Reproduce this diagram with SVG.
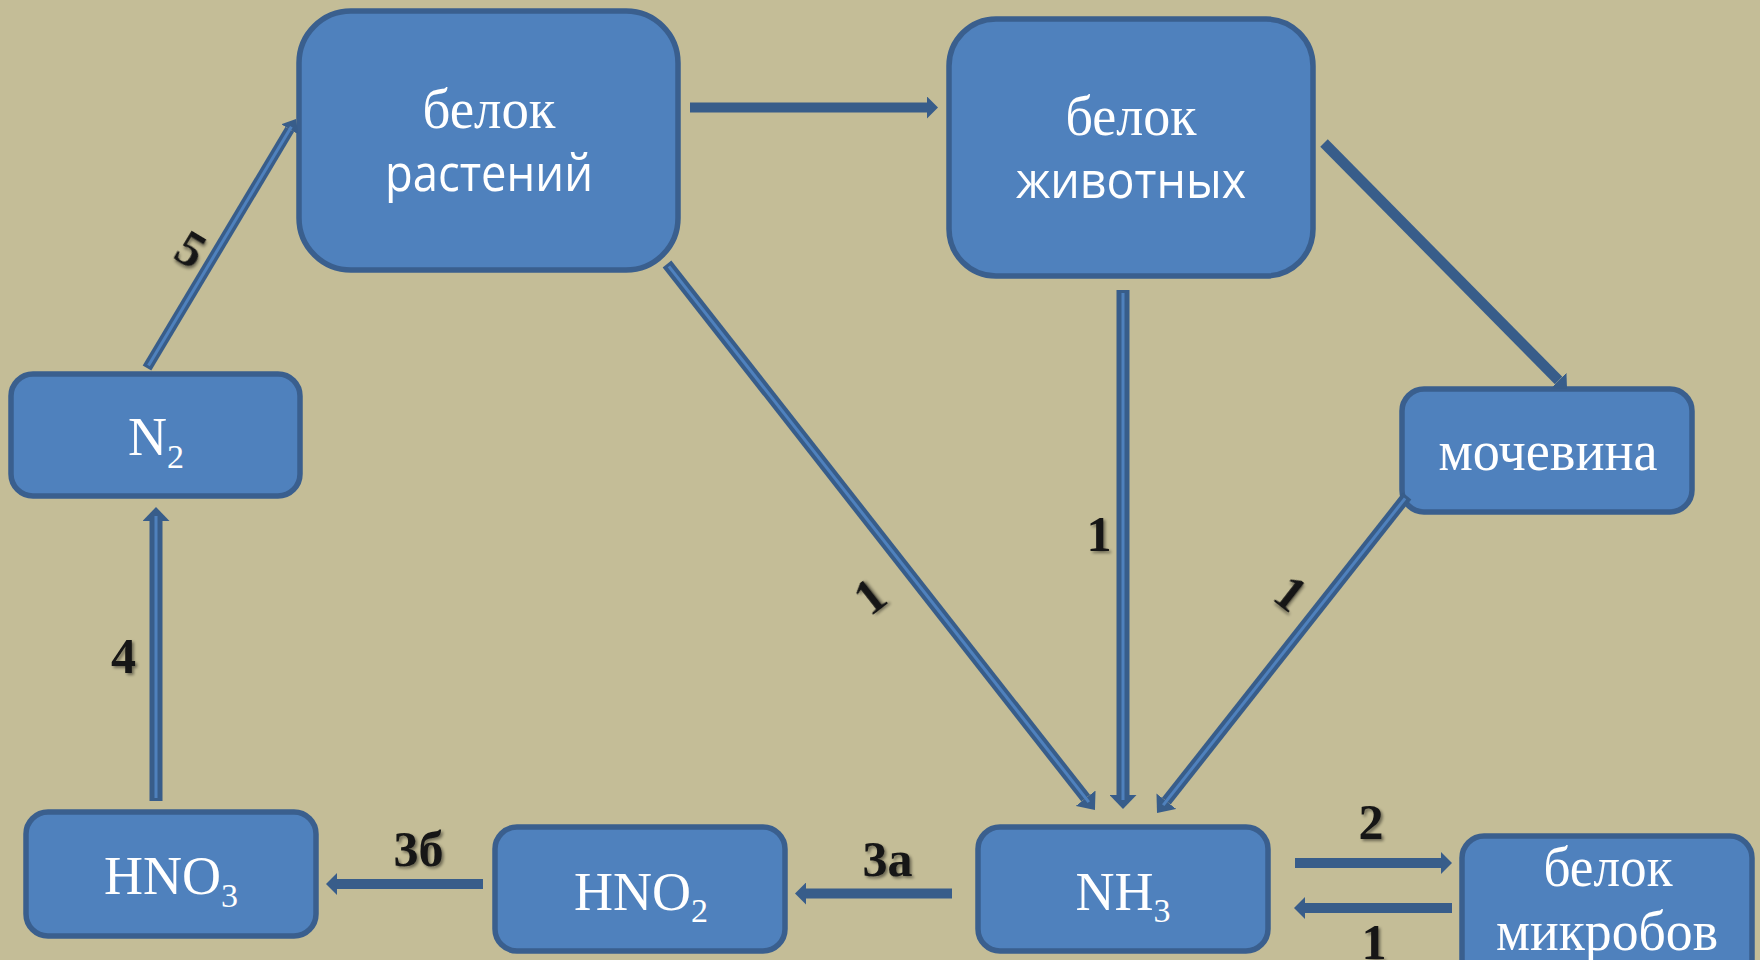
<svg xmlns="http://www.w3.org/2000/svg" width="1760" height="960" viewBox="0 0 1760 960">
  <defs>
    <style>
      .box { fill: #4f81bd; stroke: #3a5f8e; stroke-width: 5.5; }
      .ser { font-family: "Liberation Serif", "Times New Roman", serif; fill: #ffffff; }
      .san { font-family: "Open Sans", "Liberation Sans", Arial, sans-serif; fill: #ffffff; }
      .lbl { font-family: "Liberation Serif", "Times New Roman", serif; font-weight: bold; font-size: 50px; fill: #141414; filter: url(#sh); }
      .sol { stroke: #385d8a; fill: none; stroke-linecap: butt; }
      .dk { stroke: #385d8a; fill: none; stroke-linecap: butt; }
      .lt { stroke: #4f81bd; fill: none; stroke-width: 3; stroke-linecap: butt; }
    </style>
    <filter id="sh" x="-30%" y="-30%" width="160%" height="160%">
      <feDropShadow dx="2" dy="2" stdDeviation="1.5" flood-color="#000000" flood-opacity="0.45"/>
    </filter>
    <marker id="hS" viewBox="0 0 11 22" refX="0" refY="11" markerWidth="11" markerHeight="22" markerUnits="userSpaceOnUse" orient="auto">
      <path d="M0,0 L11,11 L0,22 Z" fill="#385d8a"/>
    </marker>
    <marker id="hS2" viewBox="0 0 12 22" refX="0" refY="11" markerWidth="12" markerHeight="22" markerUnits="userSpaceOnUse" orient="auto">
      <path d="M0,0 L12,11 L0,22 Z" fill="#385d8a"/>
    </marker>
    <marker id="hV" viewBox="0 0 14 27" refX="0" refY="13.5" markerWidth="14" markerHeight="27" markerUnits="userSpaceOnUse" orient="auto">
      <path d="M0,0 L14,13.5 L0,27 Z" fill="#385d8a"/>
    </marker>
    <marker id="hD" viewBox="0 0 15 25" refX="0" refY="12.5" markerWidth="15" markerHeight="25" markerUnits="userSpaceOnUse" orient="auto">
      <path d="M0,0 L15,12.5 L0,25 Z" fill="#385d8a"/>
    </marker>
    <marker id="h5" viewBox="0 0 12 20" refX="0" refY="10" markerWidth="12" markerHeight="20" markerUnits="userSpaceOnUse" orient="auto">
      <path d="M0,0 L12,10 L0,20 Z" fill="#385d8a"/>
    </marker>
  </defs>

  <rect x="0" y="0" width="1760" height="960" fill="#c4bd97"/>

  <g id="node-belok-rasteniy">
    <rect class="box" x="299" y="11" width="379" height="259" rx="52" ry="52"/>
    <text class="ser" x="489" y="128" font-size="57" text-anchor="middle" textLength="133" lengthAdjust="spacingAndGlyphs">белок</text>
    <text class="san" x="489" y="191" font-size="52" text-anchor="middle" textLength="208" lengthAdjust="spacingAndGlyphs">растений</text>
  </g>

  <g id="node-belok-zhivotnykh">
    <rect class="box" x="949" y="19" width="364" height="257" rx="47" ry="47"/>
    <text class="ser" x="1131" y="135" font-size="57" text-anchor="middle" textLength="131" lengthAdjust="spacingAndGlyphs">белок</text>
    <text class="san" x="1131" y="198" font-size="52" text-anchor="middle" textLength="230" lengthAdjust="spacingAndGlyphs">животных</text>
  </g>

  <g id="node-n2">
    <rect class="box" x="11" y="374" width="289" height="122" rx="22" ry="22"/>
    <text class="ser" x="156" y="455" font-size="54" text-anchor="middle">N<tspan font-size="34" dy="13">2</tspan></text>
  </g>

  <g id="node-mochevina">
    <rect class="box" x="1402" y="389" width="290" height="123" rx="22" ry="22"/>
    <text class="ser" x="1548" y="470" font-size="57" text-anchor="middle" textLength="219" lengthAdjust="spacingAndGlyphs">мочевина</text>
  </g>

  <g id="node-hno3">
    <rect class="box" x="26" y="812" width="290" height="124" rx="22" ry="22"/>
    <text class="ser" x="171" y="894" font-size="54" text-anchor="middle">HNO<tspan font-size="34" dy="12.5">3</tspan></text>
  </g>

  <g id="node-hno2">
    <rect class="box" x="495" y="827" width="290" height="124" rx="22" ry="22"/>
    <text class="ser" x="641" y="910" font-size="54" text-anchor="middle">HNO<tspan font-size="34" dy="12">2</tspan></text>
  </g>

  <g id="node-nh3">
    <rect class="box" x="978" y="827" width="290" height="124" rx="22" ry="22"/>
    <text class="ser" x="1123" y="910" font-size="54" text-anchor="middle">NH<tspan font-size="34" dy="12">3</tspan></text>
  </g>

  <g id="node-belok-mikrobov">
    <rect class="box" x="1462" y="836" width="290" height="150" rx="22" ry="22"/>
    <text class="ser" x="1608" y="886" font-size="57" text-anchor="middle" textLength="129" lengthAdjust="spacingAndGlyphs">белок</text>
    <text class="ser" x="1607" y="950" font-size="57" text-anchor="middle" textLength="222" lengthAdjust="spacingAndGlyphs">микробов</text>
  </g>

  <g id="connectors">
    <line class="sol" x1="690" y1="107.5" x2="927" y2="107.5" stroke-width="10" marker-end="url(#hS)"/>
    <line class="sol" x1="1324" y1="143" x2="1558.6" y2="380.5" stroke-width="10.5" marker-end="url(#hS2)"/>
    <line class="sol" x1="1295" y1="863" x2="1441" y2="863" stroke-width="10" marker-end="url(#hS)"/>
    <line class="sol" x1="1452" y1="908" x2="1305" y2="908" stroke-width="10" marker-end="url(#hS)"/>
    <line class="sol" x1="952" y1="893.5" x2="806" y2="893.5" stroke-width="10" marker-end="url(#hS)"/>
    <line class="sol" x1="483" y1="884" x2="337" y2="884" stroke-width="10" marker-end="url(#hS)"/>

    <line class="dk" x1="156" y1="801" x2="156" y2="521" stroke-width="13" marker-end="url(#hV)"/>
    <line class="lt" x1="156" y1="798" x2="156" y2="516"/>

    <line class="dk" x1="1123" y1="290" x2="1123" y2="795" stroke-width="13" marker-end="url(#hV)"/>
    <line class="lt" x1="1123" y1="293" x2="1123" y2="800"/>

    <line class="dk" x1="147" y1="368" x2="289.8" y2="129.3" stroke-width="10" marker-end="url(#h5)"/>
    <line class="lt" x1="148.5" y1="365.4" x2="291.4" y2="126.7" stroke-width="2.5"/>

    <line class="dk" x1="667" y1="264" x2="1085.7" y2="798.2" stroke-width="11" marker-end="url(#hD)"/>
    <line class="lt" x1="668.9" y1="266.4" x2="1088.8" y2="802.1" stroke-width="2.5"/>

    <line class="dk" x1="1407" y1="496" x2="1166.3" y2="801.2" stroke-width="11" marker-end="url(#hD)"/>
    <line class="lt" x1="1405.1" y1="498.4" x2="1163.2" y2="805.1" stroke-width="2.5"/>
  </g>

  <g id="labels">
    <text class="lbl" transform="translate(191,249) rotate(31)" x="0" y="17" text-anchor="middle">5</text>
    <text class="lbl" x="123.5" y="673" text-anchor="middle">4</text>
    <text class="lbl" x="1099" y="551" text-anchor="middle">1</text>
    <text class="lbl" transform="translate(869.5,596) rotate(-38)" x="0" y="17" text-anchor="middle">1</text>
    <text class="lbl" transform="translate(1291,593) rotate(38)" x="0" y="17" text-anchor="middle">1</text>
    <text class="lbl" x="1371" y="839" text-anchor="middle">2</text>
    <text class="lbl" x="1374" y="959" text-anchor="middle">1</text>
    <text class="lbl" x="887.5" y="876" text-anchor="middle">3а</text>
    <text class="lbl" x="418.5" y="866" text-anchor="middle">3б</text>
  </g>
</svg>
